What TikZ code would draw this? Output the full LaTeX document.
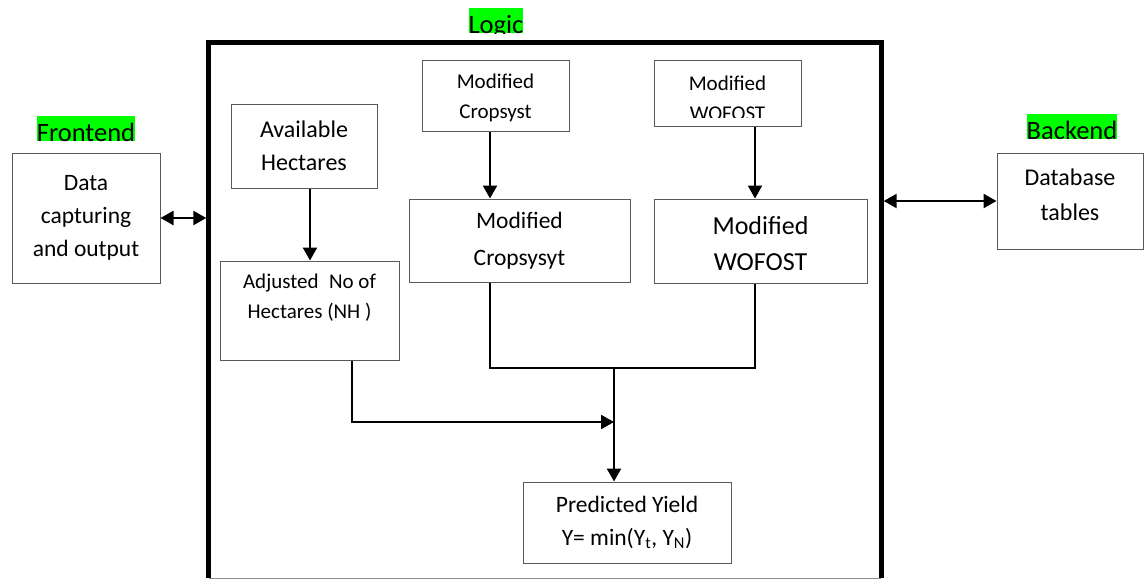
\documentclass[tikz,border=0pt]{standalone}
\usepackage{fontspec}
\setmainfont{Carlito}
\usetikzlibrary{arrows.meta,calc}
\definecolor{hlgreen}{RGB}{0,255,0}
\begin{document}
\begin{tikzpicture}[x=1pt,y=-1pt,
  box/.style={draw=black!65, line width=1pt, inner sep=0pt, align=center},
  txt/.style={inner sep=0pt, align=center},
  conn/.style={line width=2.3pt},
  arr/.style={conn, -{Triangle[length=13pt,width=14pt]}},
  darr/.style={conn, {Triangle[length=13pt,width=14pt]}-{Triangle[length=13pt,width=14pt]}},
  hl/.style={fill=hlgreen, inner sep=0pt, text height=25pt, text depth=0pt, font=\fontsize{26.5}{30}\selectfont}]
\useasboundingbox (0,0) rectangle (1144,579);

% labels
\node (fe) [hl, anchor=base] at (86,141) {Frontend};
\node (be) [hl, anchor=base] at (1072,139) {Backend};
\begin{scope}
  \clip (0,0) rectangle (1144,33);
  \node (lg) [hl, anchor=base] at (496,33) {Logic};
\end{scope}

% logic container
\node (logic) [minimum width=672pt, minimum height=535pt, inner sep=0pt] at (545,310.5) {};
\draw[line width=5pt, line join=miter] (logic.south west) -- (logic.north west) -- (logic.north east) -- (logic.south east);
\draw[black!45, line width=1pt] (logic.south west) -- (logic.south east);

% boxes
\node (data) [box, minimum width=148pt, minimum height=130pt, font=\fontsize{23.5}{33}\selectfont] at (86,218) {Data\\capturing\\and output};
\node (avail) [box, minimum width=146pt, minimum height=84pt, font=\fontsize{24}{33}\selectfont] at (304,146) {Available\\Hectares};

\node (mcT) [box, minimum width=147pt, minimum height=71pt] at (495.5,95.5) {};
\begin{scope}
  \clip (422,60) rectangle (569,122);
  \node (mcTt) [txt, font=\fontsize{21}{30}\selectfont] at (495.5,98) {Modified\\Cropsyst};
\end{scope}

\node (mwT) [box, minimum width=147pt, minimum height=66pt] at (727.5,93) {};
\begin{scope}
  \clip (654,60) rectangle (801,117);
  \node (mwTt) [txt, font=\fontsize{21}{30}\selectfont] at (727.5,98) {Modified\\WOFOST};
\end{scope}

\node (mc) [box, minimum width=221pt, minimum height=83pt, font=\fontsize{23.5}{37}\selectfont] at (519.5,240.5) {Modified\\Cropsysyt};
\node (mw) [box, minimum width=213pt, minimum height=84pt] at (760.5,241) {};
\node (mwt) [txt, font=\fontsize{26}{36}\selectfont] at (760.5,244) {Modified\\WOFOST};

\node (adj) [box, minimum width=179pt, minimum height=99pt] at (309.5,310.5) {};
\node (adjt) [txt, font=\fontsize{21}{30}\selectfont] at (309.5,298) {Adjusted\enspace No of\\Hectares (NH )};

\node (pred) [box, minimum width=208pt, minimum height=81pt, font=\fontsize{23.5}{33}\selectfont] at (627,522.5) {Predicted Yield\\Y= min(Y\textsubscript{t}, Y\textsubscript{N})};

\node (db) [box, minimum width=146pt, minimum height=96pt] at (1070,201) {};
\node (dbt) [txt, font=\fontsize{24}{35}\selectfont] at (1070,195) {Database\\tables};

% helper coordinates
\coordinate (xa) at (310,0);
\coordinate (xc) at (490,0);
\coordinate (xw) at (755,0);
\coordinate (j) at (614,368);
\coordinate (k) at (352,422);

% connectors
\draw[darr, shorten >=2.5pt] (data.east) -- (data.east -| logic.west);
\draw[darr, shorten <=2.5pt] (db.west -| logic.east) -- (db.west);
\draw[arr] (xa |- avail.south) -- (xa |- adj.north);
\draw[arr] (xc |- mcT.south) -- (xc |- mc.north);
\draw[arr] (xw |- mwT.south) -- (xw |- mw.north);
\draw[conn] (xc |- mc.south) -- (xc |- j) -- (xw |- j) -- (xw |- mw.south);
\draw[arr] (j) -- (j |- pred.north);
\draw[arr] (k |- adj.south) -- (k) -- (j |- k);
\end{tikzpicture}
\end{document}
